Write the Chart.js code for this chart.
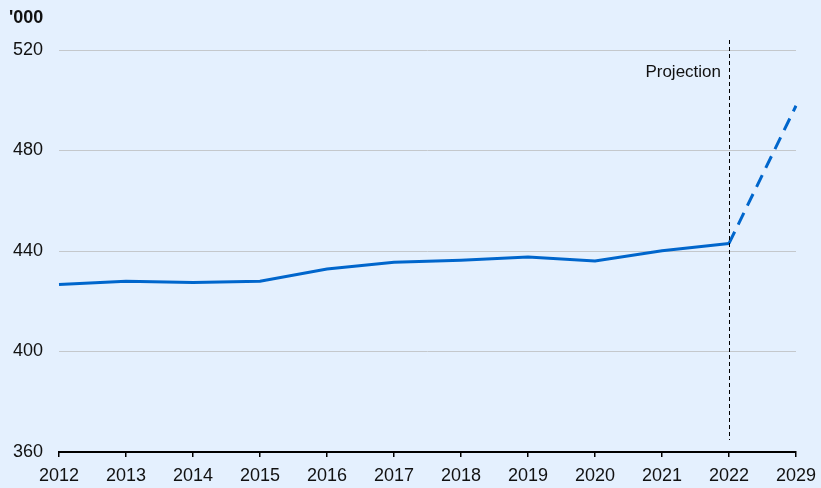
<!DOCTYPE html>
<html>
<head>
<meta charset="utf-8">
<script src="https://cdn.jsdelivr.net/npm/chart.js@4"></script>
<style>
  html, body { margin: 0; padding: 0; background: #e4f0fe; }
  #wrap { width: 821px; height: 488px; position: relative; }
</style>
</head>
<body>
<div id="wrap"><canvas id="chart" width="821" height="488"></canvas></div>
<script>
// data
const years = ['2012', '2013', '2014', '2015', '2016', '2017', '2018', '2019', '2020', '2021', '2022', '2029'];
const actual = [426.7, 428.0, 427.5, 428.0, 432.8, 435.5, 436.3, 437.6, 436.0, 440.1, 443.0, null];
const projected = [null, null, null, null, null, null, null, null, null, null, 443.0, 497.8];
const yTicks = [360, 400, 440, 480, 520];
const unitLabel = "'000";
const projectionLabel = 'Projection';
const projectionStart = '2022';

const blue = '#0066cc';
const font = 'Arial, "Liberation Sans", sans-serif';

// dashed marker line + "Projection" text + unit label
const extras = {
    id: 'extras',
    afterDatasetsDraw(chart) {
        const ctx = chart.ctx;
        const x = chart.scales.x.getPixelForValue(years.indexOf(projectionStart));
        const area = chart.chartArea;
        ctx.save();
        ctx.strokeStyle = '#000';
        ctx.lineWidth = 1;
        ctx.setLineDash([4, 3]);
        ctx.beginPath();
        ctx.moveTo(Math.round(x) + 0.5, area.top - 10);
        ctx.lineTo(Math.round(x) + 0.5, area.bottom - 12);
        ctx.stroke();
        ctx.setLineDash([]);
        ctx.fillStyle = '#111';
        ctx.font = '17px ' + font;
        ctx.textAlign = 'right';
        ctx.textBaseline = 'middle';
        ctx.fillText(projectionLabel, x - 8, area.top + 22);
        ctx.font = 'bold 18px ' + font;
        ctx.textAlign = 'left';
        ctx.fillText(unitLabel, 9, 18);
        ctx.restore();
    }
};

new Chart(document.getElementById('chart'), {
    type: 'line',
    data: {
        labels: years,
        datasets: [
            { data: actual, borderColor: blue, borderWidth: 3, pointRadius: 0, tension: 0 },
            { data: projected, borderColor: blue, borderWidth: 3, borderDash: [13, 8], pointRadius: 0, tension: 0 }
        ]
    },
    options: {
        responsive: false,
        animation: false,
        layout: { padding: { top: 50, right: 25, left: 0, bottom: 0 } },
        plugins: { legend: { display: false }, tooltip: { enabled: false } },
        scales: {
            x: {
                offset: false,
                afterFit(axis) {
                    axis.height = 36;
                    axis.paddingLeft = 0;
                    axis.paddingRight = 0;
                },
                grid: { drawOnChartArea: false, drawTicks: true, tickLength: 5, color: '#000', lineWidth: 1.5 },
                border: { color: '#000', width: 2 },
                ticks: { color: '#111', font: { size: 18, family: font }, padding: 8, maxRotation: 0, autoSkip: false }
            },
            y: {
                min: 360,
                max: 520,
                afterBuildTicks(axis) { axis.ticks = yTicks.map(v => ({ value: v })); },
                afterFit(axis) { axis.width = 59; },
                grid: {
                    drawTicks: false,
                    color: ctx => ctx.tick && ctx.tick.value === 360 ? 'rgba(0,0,0,0)' : '#c4c8cc',
                    lineWidth: 1
                },
                border: { display: false },
                ticks: { color: '#111', font: { size: 18, family: font }, padding: 16 }
            }
        }
    },
    plugins: [extras]
});
</script>
</body>
</html>
